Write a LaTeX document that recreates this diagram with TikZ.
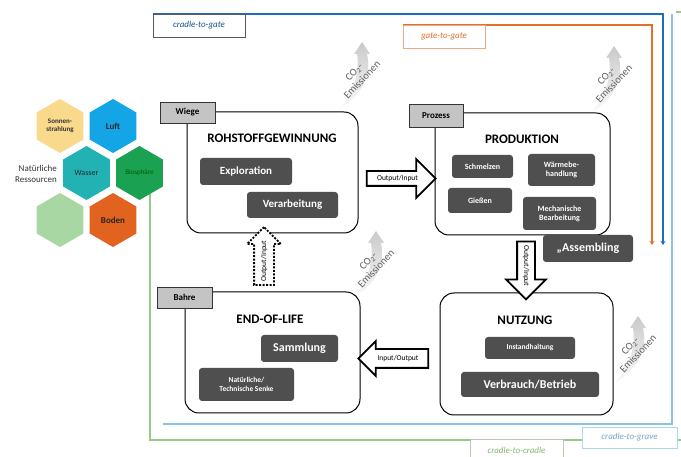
\documentclass[tikz,border=0pt]{standalone}
\usepackage{fontspec}
\setmainfont{Carlito}
\usetikzlibrary{shapes.geometric,shapes.arrows,arrows.meta}

\definecolor{darkbox}{HTML}{4F4F4F}
\definecolor{tabgray}{HTML}{C4C4C4}
\definecolor{gateblue}{HTML}{1C6FBF}
\definecolor{gateorange}{HTML}{E2702C}
\definecolor{graveblue}{HTML}{8EC2E4}
\definecolor{cradlegreen}{HTML}{95CB82}
\definecolor{sunyellow}{HTML}{F9D98C}
\definecolor{luftblue}{HTML}{14A5E6}
\definecolor{wasserteal}{HTML}{22B2B4}
\definecolor{biogreen}{HTML}{1BA152}
\definecolor{palegreen}{HTML}{A9D7A3}
\definecolor{bodenorange}{HTML}{E2621F}

\tikzset{
  phase/.style={draw=black, line width=1pt, rounded corners=14pt, fill=white},
  tab/.style={draw=black!80, fill=tabgray, line width=0.8pt, inner sep=0pt,
    font=\bfseries\fontsize{9}{10}\selectfont},
  title/.style={font=\bfseries\fontsize{13}{14}\selectfont},
  task/.style={fill=darkbox, text=white, rounded corners=3pt, align=center, inner sep=0pt,
    font=\bfseries\fontsize{8}{9}\selectfont},
  hexa/.style={regular polygon, regular polygon sides=6, regular polygon rotate=30,
    minimum size=54pt, inner sep=0pt, align=center},
  flow/.style={single arrow, draw=black, line width=1.8pt, fill=white, inner xsep=1pt,
    text height=5.5pt, text depth=1.5pt, font=\fontsize{7.5}{8}\selectfont},
  frame/.style={line width=2pt},
  scopelabel/.style={fill=white, inner sep=0pt, font=\itshape\fontsize{9}{10}\selectfont},
  co2band/.style={top color=gray!42, bottom color=gray!3, draw=none},
  co2text/.style={rotate=47, align=center, inner sep=0pt, text=gray!75!black,
    font=\fontsize{10.5}{11}\selectfont},
}

% curved CO2 arrow with its text, placed at the text centre
\newcommand{\emission}[1]{%
  \begin{scope}[shift={#1}]
    \shade[co2band] (-19,33) .. controls (8,16) and (13,-4) .. (9,-22) -- (12,-22)
      -- (4,-34) -- (-4,-22) -- (-1,-22) .. controls (2,-4) and (-4,16) .. (-19,33) -- cycle;
    \node[co2text] {CO\textsubscript{2}-\\Emissionen};
  \end{scope}}

\begin{document}
\begin{tikzpicture}[x=1pt,y=-1pt]
\useasboundingbox (0,0) rectangle (681,457);

% system boundaries
\draw[frame, cradlegreen] (150,170) -- (150,440) -- (681,440);
\draw[frame, cradlegreen] (676,12) -- (681,12);
\draw[frame, graveblue] (672,14) -- (672,424) -- (163,424);
\draw[frame, gateblue, -{Stealth[length=4pt,width=5pt]}] (153,14) -- (663,14) -- (663,245);
\draw[frame, gateorange, -{Stealth[length=4pt,width=5pt]}] (403,25) -- (652,25) -- (652,245);

\node[scopelabel, draw=black!65, line width=0.8pt, text=gateblue!75!black,
  minimum width=92pt, minimum height=23pt] (c2gate) at (199,25.5) {cradle-to-gate};
\node[scopelabel, draw=gateorange!60, line width=0.8pt, text=gateorange,
  minimum width=82pt, minimum height=23pt] (g2gate) at (444,36.5) {gate-to-gate};
\node[scopelabel, draw=graveblue!70, line width=0.8pt, text=graveblue!85!black,
  minimum width=95pt, minimum height=21pt] (c2grave) at (629.5,437.5) {cradle-to-grave};
\node[scopelabel, draw=cradlegreen!50!gray!60, line width=0.8pt, text=cradlegreen!90!black,
  minimum width=93pt, minimum height=21pt] (c2cradle) at (516.5,450) {cradle-to-cradle};

% natural resources
\node[hexa, fill=sunyellow, text=black!80, font=\bfseries\fontsize{7}{8}\selectfont]
  (sonne) at (60,126) {Sonnen-\\strahlung};
\node[hexa, fill=luftblue, text=black!85, font=\bfseries\fontsize{9}{10}\selectfont]
  (luft) at (113,126) {Luft};
\node[hexa, fill=wasserteal, text=black!85, font=\fontsize{8}{9}\selectfont]
  (wasser) at (86.5,173) {Wasser};
\node[hexa, fill=biogreen, text=green!35!black, font=\fontsize{7}{8}\selectfont]
  (bio) at (139.5,173) {Biosphäre};
\node[hexa, fill=palegreen] (leer) at (60,220) {};
\node[hexa, fill=bodenorange, text=black!85, font=\bfseries\fontsize{9}{10}\selectfont]
  (boden) at (113,220) {Boden};
\node[anchor=east, align=right, inner sep=0pt, text=black!80, font=\fontsize{9}{10.5}\selectfont]
  (res) at (57,174) {Natürliche\\Ressourcen};

% CO2 emissions
\emission{(358,76)}
\emission{(610,80)}
\emission{(372,265)}
\emission{(634,350)}

% life cycle phases
\node[phase, minimum width=171pt, minimum height=121pt] (rohstoff) at (272.5,172.5) {};
\node[phase, minimum width=175pt, minimum height=122pt] (produktion) at (522.5,174) {};
\node[phase, minimum width=173pt, minimum height=122pt] (nutzung) at (526.5,354) {};
\node[phase, minimum width=175pt, minimum height=121pt] (eol) at (272.5,352.5) {};

\node[tab, minimum width=55pt, minimum height=21pt] (wiege) at (187.5,112.5) {Wiege};
\node[tab, minimum width=54pt, minimum height=23pt] (prozess) at (436,115.5) {Prozess};
\node[tab, minimum width=55pt, minimum height=21pt] (bahre) at (184.5,297.5) {Bahre};

\node[title] (t1) at (272,138) {ROHSTOFFGEWINNUNG};
\node[title] (t2) at (522,139) {PRODUKTION};
\node[title] (t3) at (525,320) {NUTZUNG};
\node[title] (t4) at (270,319) {END-OF-LIFE};

\node[task, minimum width=92pt, minimum height=27pt, font=\bfseries\fontsize{11}{12}\selectfont]
  (explo) at (246,171.5) {Exploration};
\node[task, minimum width=91pt, minimum height=26pt, font=\bfseries\fontsize{11}{12}\selectfont]
  (verarb) at (292.5,205) {Verarbeitung};
\node[task, minimum width=61pt, minimum height=23pt] (schmelz) at (482.5,166.5) {Schmelzen};
\node[task, minimum width=67pt, minimum height=32pt] (waerme) at (561.5,170) {Wärmebe-\\handlung};
\node[task, minimum width=64pt, minimum height=25pt] (giess) at (480,200.5) {Gießen};
\node[task, minimum width=73pt, minimum height=33pt] (mech) at (559.5,213.5) {Mechanische\\Bearbeitung};
\node[task, minimum width=90pt, minimum height=27pt, font=\bfseries\fontsize{12}{13}\selectfont]
  (assem) at (588,248.5) {„Assembling};
\node[task, minimum width=90pt, minimum height=22pt, font=\bfseries\fontsize{7.5}{8}\selectfont]
  (instand) at (530,348) {Instandhaltung};
\node[task, minimum width=138pt, minimum height=25pt, font=\bfseries\fontsize{12}{13}\selectfont]
  (verbr) at (530,384.5) {Verbrauch/Betrieb};
\node[task, minimum width=77pt, minimum height=27pt, font=\bfseries\fontsize{12}{13}\selectfont]
  (samml) at (299.5,348.5) {Sammlung};
\node[task, minimum width=95pt, minimum height=33pt, font=\bfseries\fontsize{7.5}{9}\selectfont]
  (senke) at (246.5,384.5) {Natürliche/\\Technische Senke};

% flows between phases
\node[flow, inner ysep=3pt, single arrow head extend=12pt, minimum height=69pt]
  (io1) at (397.5,178.5) {Output/Input};
\node[flow, rotate=-90, inner ysep=4.5pt, single arrow head extend=11pt, minimum height=58pt]
  (io2) at (526,266) {Output/Input};
\node[flow, shape border rotate=180, inner ysep=5pt, single arrow head extend=8pt,
  minimum height=70pt] (io3) at (398,358.5) {Input/Output};
\node[flow, rotate=90, dash pattern=on 2pt off 1.5pt, inner ysep=5.5pt,
  single arrow head extend=7pt, minimum height=58pt] (io4) at (264,261) {Output/Input};
\end{tikzpicture}
\end{document}
